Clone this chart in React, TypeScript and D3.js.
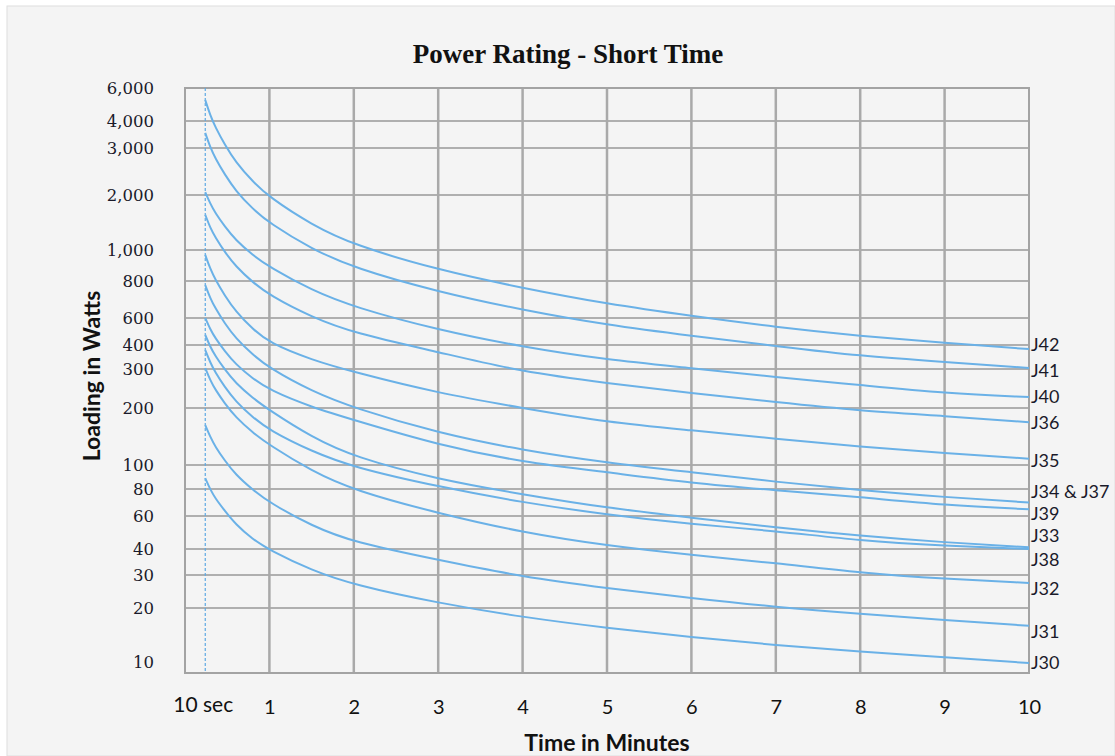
import React, { useEffect, useRef } from "react";
import * as d3 from "d3";

// time in minutes, first point is the 10 sec line
const times = [0.24, 0.3, 0.36, 0.47, 0.6, 0.8, 1, 1.5, 2, 3, 4, 5, 6, 7, 8, 9, 10];

// loading in watts
const j42 = [5270, 4330, 3770, 3130, 2700, 2290, 1960, 1460, 1090, 871, 762, 676, 611, 533, 467, 415, 383];
const j41 = [3560, 3020, 2780, 2440, 2090, 1750, 1490, 1020, 884, 741, 643, 548, 467, 396, 354, 329, 304];
const j40 = [2060, 1840, 1670, 1430, 1180, 968, 890, 750, 659, 511, 392, 338, 304, 279, 259, 238, 228];
const j36 = [1640, 1400, 1230, 988, 895, 794, 724, 605, 489, 371, 292, 264, 238, 215, 195, 186, 175];
const j35 = [968, 877, 809, 722, 636, 519, 415, 338, 292, 238, 200, 175, 161, 146, 132, 121, 111];
const j34j37 = [778, 706, 653, 561, 451, 360, 304, 243, 200, 156, 126, 104, 94, 86, 79, 74, 70];
const j39 = [600, 515, 450, 375, 320, 276, 246, 202, 179, 135, 105, 94, 85, 79, 74, 68, 65];
const j33 = [474, 392, 354, 299, 264, 226, 196, 149, 114, 88, 76, 66, 59, 53, 48, 44, 41];
const j38 = [379, 326, 291, 254, 217, 184, 161, 124, 98, 82, 70, 61, 55, 51, 45, 42, 40];
const j32 = [304, 271, 247, 212, 184, 157, 135, 95, 79, 62, 50, 42, 37.7, 34.6, 30.8, 28.8, 27.6];
const j31 = [170, 149, 132, 108, 92, 79.5, 70, 54, 44, 35.8, 29.4, 26, 23, 20.3, 18.9, 17.8, 16.7];
const j30 = [89, 79.6, 73, 64, 55, 46, 39.6, 31.8, 27, 21.5, 18.3, 16.3, 14.6, 13.1, 11.9, 10.9, 9.8];

const seriesNames = ["J42", "J41", "J40", "J36", "J35", "J34 & J37", "J39", "J33", "J38", "J32", "J31", "J30"];
const seriesValues = [j42, j41, j40, j36, j35, j34j37, j39, j33, j38, j32, j31, j30];
// where each name sits at the right edge (watts)
const labelValues = [400, 296, 228, 174, 107, 78, 62, 48, 36, 26, 15.7, 9.8];

const yTicks = [10, 20, 30, 40, 60, 80, 100, 200, 300, 400, 600, 800, 1000, 2000, 3000, 4000, 6000];
const xTicks = [1, 2, 3, 4, 5, 6, 7, 8, 9, 10];
const tenSec = 0.24;

// the printed axis is not a true log axis, so the tick rows are placed as drawn
const yTickRows = [662, 608, 575, 549, 516, 489, 465, 408, 369, 345, 318, 281, 250, 195, 148, 121, 88];

const width = 1115;
const height = 756;
const plot = { left: 185, right: 1029, top: 88, bottom: 673 };

const App = () => {
  const ref = useRef<SVGSVGElement>(null);

  useEffect(() => {
    const svg = d3.select(ref.current);
    svg.selectAll("*").remove();

    const x = d3.scaleLinear().domain([0, 10]).range([plot.left, plot.right]);
    const y = d3.scaleLinear().domain(yTicks).range(yTickRows);

    svg
      .append("rect")
      .attr("x", 7)
      .attr("y", 6)
      .attr("width", width - 7)
      .attr("height", height - 6)
      .attr("fill", "#f4f4f4")
      .attr("stroke", "#dedede");

    // horizontal grid
    svg
      .append("g")
      .selectAll("line")
      .data(yTicks.filter((d) => d > 10 && d < 6000))
      .join("line")
      .attr("x1", plot.left)
      .attr("x2", plot.right)
      .attr("y1", (d) => y(d))
      .attr("y2", (d) => y(d))
      .attr("stroke", "#999")
      .attr("stroke-width", 1.5);

    // vertical grid
    svg
      .append("g")
      .selectAll("line")
      .data(xTicks.slice(0, -1))
      .join("line")
      .attr("x1", (d) => x(d))
      .attr("x2", (d) => x(d))
      .attr("y1", plot.top)
      .attr("y2", plot.bottom)
      .attr("stroke", "#a9a9a9")
      .attr("stroke-width", 2.5);

    svg
      .append("rect")
      .attr("x", plot.left)
      .attr("y", plot.top)
      .attr("width", plot.right - plot.left)
      .attr("height", plot.bottom - plot.top)
      .attr("fill", "none")
      .attr("stroke", "#a3a3a3")
      .attr("stroke-width", 2);

    // 10 sec marker
    svg
      .append("line")
      .attr("x1", x(tenSec))
      .attr("x2", x(tenSec))
      .attr("y1", plot.top)
      .attr("y2", plot.bottom)
      .attr("stroke", "#5ea8e2")
      .attr("stroke-width", 1.2)
      .attr("stroke-dasharray", "3,2");

    const line = d3
      .line<number>()
      .x((d, i) => x(times[i]))
      .y((d) => y(d))
      .curve(d3.curveBasis);

    svg
      .append("g")
      .selectAll("path")
      .data(seriesValues)
      .join("path")
      .attr("d", (d) => line(d))
      .attr("fill", "none")
      .attr("stroke", "#6ab1e7")
      .attr("stroke-width", 2);

    // y axis labels
    svg
      .append("g")
      .attr("transform", `translate(${plot.left},0)`)
      .call(d3.axisLeft(y).tickValues(yTicks).tickFormat(d3.format(",")).tickSize(0).tickPadding(31))
      .call((g) => g.select(".domain").remove())
      .selectAll("text")
      .attr("font-family", "DejaVu Serif")
      .attr("font-size", 16.5)
      .attr("fill", "#1a1a2a");

    // x axis labels
    svg
      .append("g")
      .attr("transform", `translate(0,${plot.bottom})`)
      .call(d3.axisBottom(x).tickValues(xTicks).tickFormat(d3.format("d")).tickSize(0).tickPadding(27))
      .call((g) => g.select(".domain").remove())
      .selectAll("text")
      .attr("font-family", "Lato")
      .attr("font-size", 20)
      .attr("fill", "#111");

    svg
      .append("text")
      .attr("x", x(tenSec) - 2)
      .attr("y", 712)
      .attr("text-anchor", "middle")
      .attr("font-family", "Lato")
      .attr("font-size", 21)
      .attr("fill", "#111")
      .text("10 sec");

    // series names at the right edge
    svg
      .append("g")
      .selectAll("text")
      .data(seriesNames)
      .join("text")
      .attr("x", plot.right + 2)
      .attr("y", (d, i) => y(labelValues[i]))
      .attr("dy", "0.35em")
      .attr("font-family", "Lato")
      .attr("font-size", 18)
      .attr("fill", "#1a1a2a")
      .text((d) => d);

    svg
      .append("text")
      .attr("x", 568)
      .attr("y", 63)
      .attr("text-anchor", "middle")
      .attr("font-family", "Liberation Serif")
      .attr("font-weight", "bold")
      .attr("font-size", 27)
      .attr("fill", "#111")
      .text("Power Rating - Short Time");

    svg
      .append("text")
      .attr("x", x(5))
      .attr("y", 751)
      .attr("text-anchor", "middle")
      .attr("font-family", "Lato")
      .attr("font-weight", "bold")
      .attr("font-size", 23)
      .attr("fill", "#111")
      .text("Time in Minutes");

    svg
      .append("text")
      .attr("transform", "translate(100,376) rotate(-90)")
      .attr("text-anchor", "middle")
      .attr("font-family", "Lato")
      .attr("font-weight", "bold")
      .attr("font-size", 23)
      .attr("fill", "#111")
      .text("Loading in Watts");
  }, []);

  return (
    <svg
      ref={ref}
      width={width}
      height={height}
      style={{ position: "absolute", left: 0, top: 0, background: "#fff" }}
    ></svg>
  );
};

export default App;
